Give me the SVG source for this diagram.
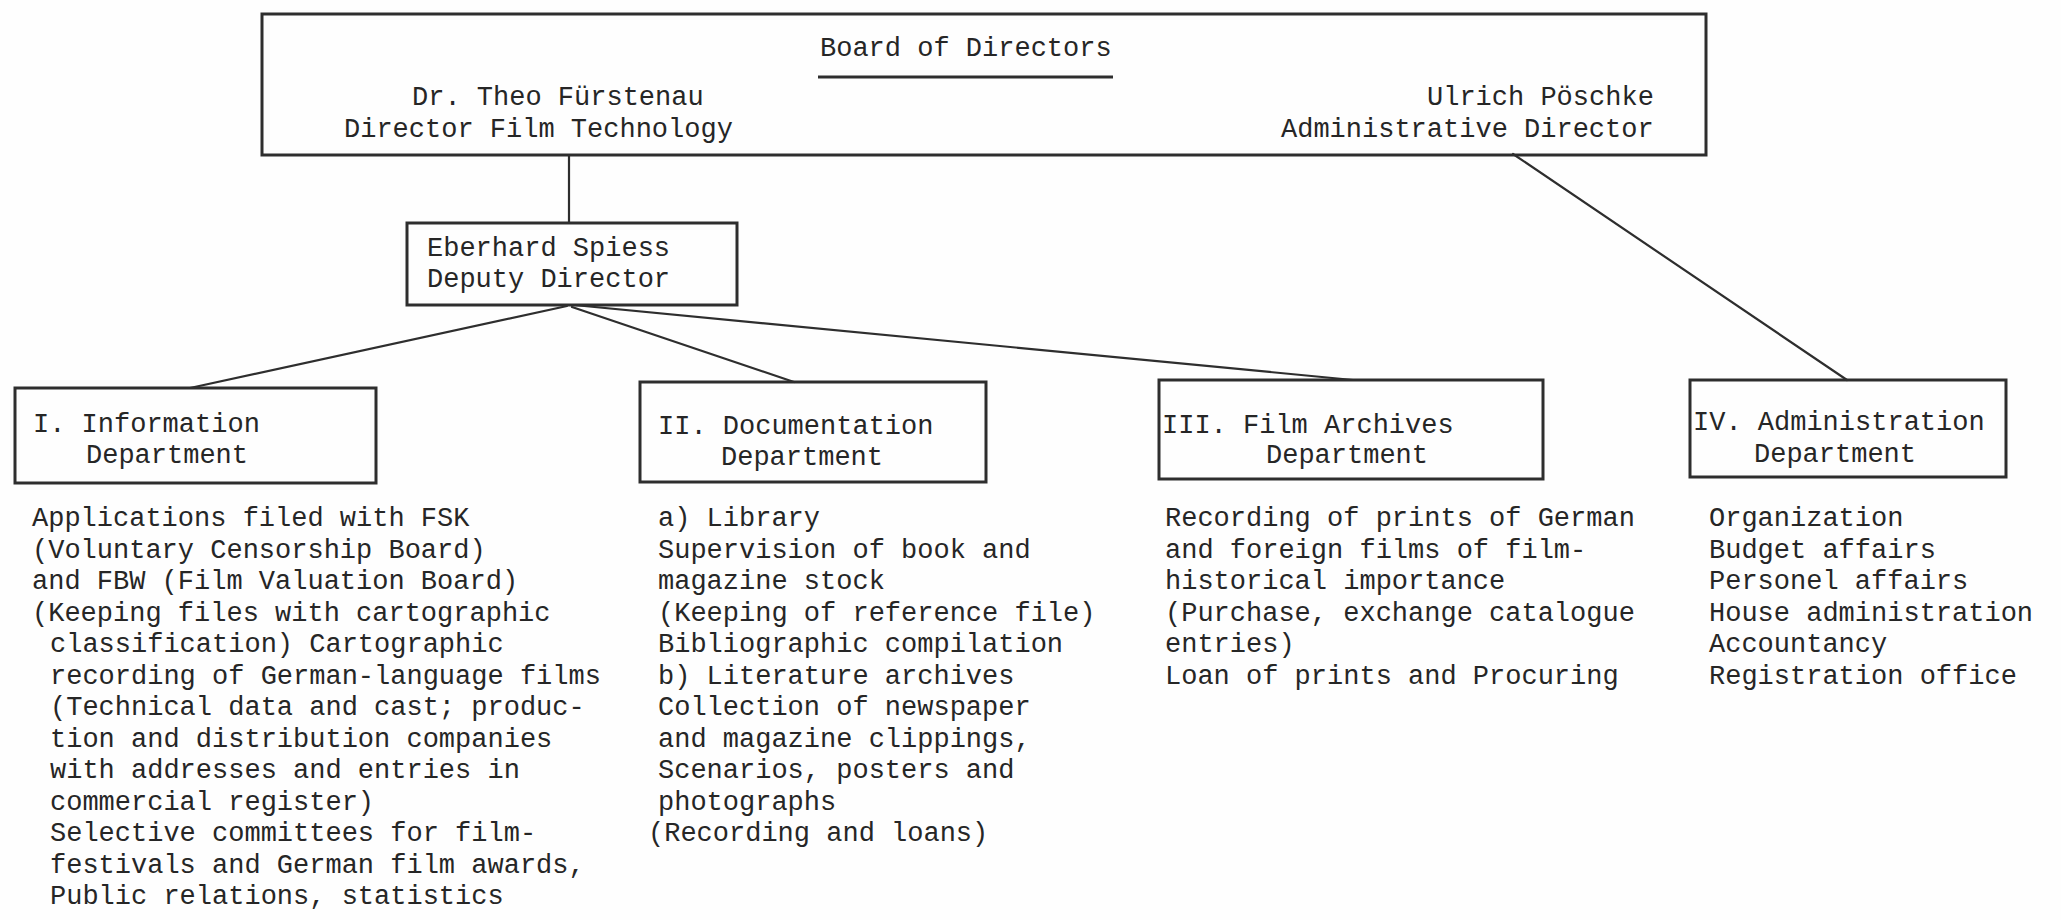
<svg xmlns="http://www.w3.org/2000/svg" width="2061" height="920" viewBox="0 0 2061 920">
<style>
.t{font-family:"Liberation Mono","DejaVu Sans Mono",monospace;font-size:27px;fill:#262626}
.box{fill:none;stroke:#2e2e2e;stroke-width:3}
.ln{fill:none;stroke:#2e2e2e;stroke-width:2.2;stroke-linecap:round}
</style>
<rect width="2061" height="920" fill="#fefefe"/>
<g id="connectors">
<line class="ln" x1="569" y1="155" x2="569" y2="223"/>
<line class="ln" x1="567" y1="306" x2="190" y2="388"/>
<line class="ln" x1="572" y1="307" x2="794" y2="382"/>
<line class="ln" x1="574" y1="305" x2="1353" y2="380"/>
<line class="ln" x1="1513" y1="154" x2="1847" y2="380"/>
</g>
<g id="board">
<rect class="box" x="262" y="14" width="1444" height="141"/>
<text class="t" x="820" y="56">Board of Directors</text>
<line x1="818" y1="77" x2="1113" y2="77" stroke="#2e2e2e" stroke-width="3"/>
<text class="t" x="412" y="105">Dr. Theo Fürstenau</text>
<text class="t" x="344" y="137">Director Film Technology</text>
<text class="t" x="1427" y="105">Ulrich Pöschke</text>
<text class="t" x="1281" y="137">Administrative Director</text>
</g>
<g id="deputy">
<rect class="box" x="407" y="223" width="330" height="82"/>
<text class="t" x="427" y="256">Eberhard Spiess</text>
<text class="t" x="427" y="287">Deputy Director</text>
</g>
<g id="dept1">
<rect class="box" x="15" y="388" width="361" height="95"/>
<text class="t" x="33" y="432">I. Information</text>
<text class="t" x="86" y="463">Department</text>
<text class="t" x="32" y="526">Applications filed with FSK</text>
<text class="t" x="32" y="558">(Voluntary Censorship Board)</text>
<text class="t" x="32" y="589">and FBW (Film Valuation Board)</text>
<text class="t" x="32" y="621">(Keeping files with cartographic</text>
<text class="t" x="50" y="652">classification) Cartographic</text>
<text class="t" x="50" y="684">recording of German-language films</text>
<text class="t" x="50" y="715">(Technical data and cast; produc-</text>
<text class="t" x="50" y="747">tion and distribution companies</text>
<text class="t" x="50" y="778">with addresses and entries in</text>
<text class="t" x="50" y="810">commercial register)</text>
<text class="t" x="50" y="841">Selective committees for film-</text>
<text class="t" x="50" y="873">festivals and German film awards,</text>
<text class="t" x="50" y="904">Public relations, statistics</text>
</g>
<g id="dept2">
<rect class="box" x="640" y="382" width="346" height="100"/>
<text class="t" x="658" y="434">II. Documentation</text>
<text class="t" x="721" y="465">Department</text>
<text class="t" x="658" y="526">a) Library</text>
<text class="t" x="658" y="558">Supervision of book and</text>
<text class="t" x="658" y="589">magazine stock</text>
<text class="t" x="658" y="621">(Keeping of reference file)</text>
<text class="t" x="658" y="652">Bibliographic compilation</text>
<text class="t" x="658" y="684">b) Literature archives</text>
<text class="t" x="658" y="715">Collection of newspaper</text>
<text class="t" x="658" y="747">and magazine clippings,</text>
<text class="t" x="658" y="778">Scenarios, posters and</text>
<text class="t" x="658" y="810">photographs</text>
<text class="t" x="648" y="841">(Recording and loans)</text>
</g>
<g id="dept3">
<rect class="box" x="1159" y="380" width="384" height="99"/>
<text class="t" x="1162" y="433">III. Film Archives</text>
<text class="t" x="1266" y="463">Department</text>
<text class="t" x="1165" y="526">Recording of prints of German</text>
<text class="t" x="1165" y="558">and foreign films of film-</text>
<text class="t" x="1165" y="589">historical importance</text>
<text class="t" x="1165" y="621">(Purchase, exchange catalogue</text>
<text class="t" x="1165" y="652">entries)</text>
<text class="t" x="1165" y="684">Loan of prints and Procuring</text>
</g>
<g id="dept4">
<rect class="box" x="1690" y="380" width="316" height="97"/>
<text class="t" x="1693" y="430">IV. Administration</text>
<text class="t" x="1754" y="462">Department</text>
<text class="t" x="1709" y="526">Organization</text>
<text class="t" x="1709" y="558">Budget affairs</text>
<text class="t" x="1709" y="589">Personel affairs</text>
<text class="t" x="1709" y="621">House administration</text>
<text class="t" x="1709" y="652">Accountancy</text>
<text class="t" x="1709" y="684">Registration office</text>
</g>
</svg>
